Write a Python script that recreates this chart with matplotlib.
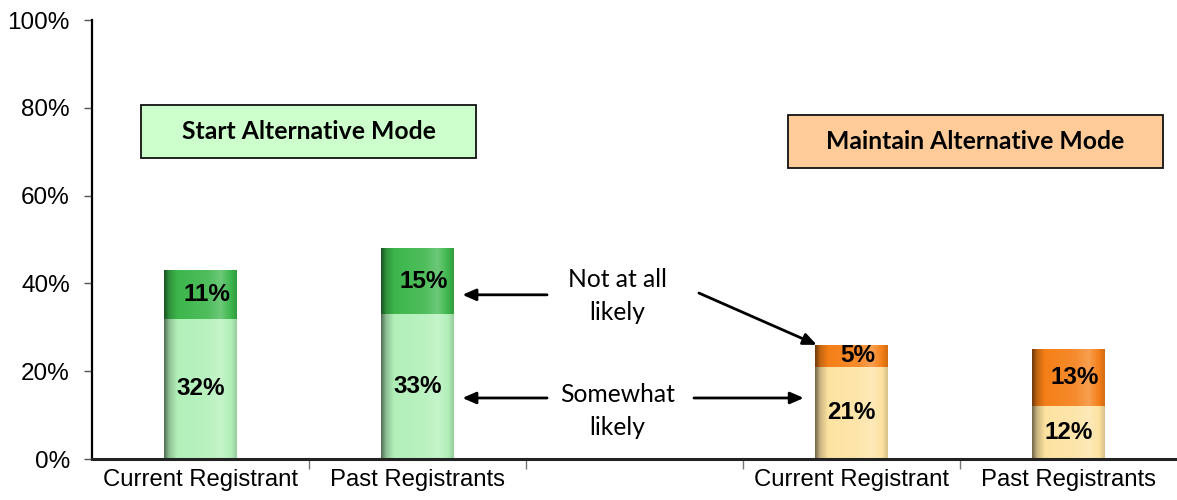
import numpy as np
import matplotlib
matplotlib.use("Agg")
import matplotlib.pyplot as plt
from matplotlib.patches import Rectangle
from matplotlib.ticker import FuncFormatter, FixedLocator
from matplotlib.colors import to_rgb

# ---- data ----
categories = ["Current Registrant", "Past Registrants", "", "Current Registrant", "Past Registrants"]
somewhat_likely = [32, 33, None, 21, 12]
not_at_all_likely = [11, 15, None, 5, 13]
yticks = [0, 20, 40, 60, 80, 100]

light_colors = ["#b2f0b9", "#b2f0b9", None, "#fde3a2", "#fde3a2"]
dark_colors = ["#3cb64b", "#3cb64b", None, "#f57f17", "#f57f17"]

plt.rcParams['font.family'] = ['Liberation Sans', 'DejaVu Sans']

fig = plt.figure(figsize=(11.77, 5.0), dpi=100)
ax = fig.add_axes([92/1177, 41/500, 1 - 92/1177, 439/500])

x = np.arange(len(categories))
width = 0.335


def shade(patch, color):
    base = np.array(to_rgb(color))
    white = np.ones(3)
    t = np.array([0.0, 0.07, 0.18, 0.6, 0.78, 0.92, 1.0])
    cols = [base * 0.45, base * 0.8, base, base * 0.9 + white * 0.1,
            base * 0.75 + white * 0.25, base, base * 0.85]
    n = 200
    tt = np.linspace(0, 1, n)
    img = np.zeros((1, n, 3))
    cols = np.array(cols)
    for c in range(3):
        img[0, :, c] = np.interp(tt, t, cols[:, c])
    img = np.clip(img, 0, 1)
    x0, y0 = patch.get_x(), patch.get_y()
    w, h = patch.get_width(), patch.get_height()
    im = ax.imshow(img, extent=[x0, x0 + w, y0, y0 + h], aspect='auto',
                   zorder=patch.get_zorder() + 0.1, interpolation='bilinear')
    im.set_clip_path(patch)


for i in range(len(categories)):
    if somewhat_likely[i] is None:
        continue
    b1 = ax.bar(x[i], somewhat_likely[i], width, color=light_colors[i], zorder=2)[0]
    b2 = ax.bar(x[i], not_at_all_likely[i], width, bottom=somewhat_likely[i],
                color=dark_colors[i], zorder=2)[0]
    shade(b1, light_colors[i])
    shade(b2, dark_colors[i])
    ax.text(x[i], somewhat_likely[i] / 2, f"{somewhat_likely[i]}%", ha='center', va='center',
            fontsize=17.5, fontweight='bold', zorder=5)
    ax.text(x[i] + 0.03, somewhat_likely[i] + not_at_all_likely[i] / 2, f"{not_at_all_likely[i]}%",
            ha='center', va='center', fontsize=17.5, fontweight='bold', zorder=5)

ax.set_xlim(-0.5, len(categories) - 0.5)
ax.set_ylim(0, 100)
ax.yaxis.set_major_locator(FixedLocator(yticks))
ax.yaxis.set_major_formatter(FuncFormatter(lambda v, p: f"{v:.0f}%"))
ax.set_xticks(x)
ax.set_xticklabels(categories)
ax.set_xticks(np.arange(len(categories) - 1) + 0.5, minor=True)
ax.tick_params(axis='x', which='major', length=0, labelsize=17.2, pad=7)
ax.tick_params(axis='x', which='minor', length=7, width=1, color='#777777', direction='out')
ax.tick_params(axis='y', length=6, width=1, color='#555555', labelsize=17.5, pad=10)

for s in ['top', 'right']:
    ax.spines[s].set_visible(False)
ax.spines['left'].set_linewidth(1.6)
ax.spines['bottom'].set_linewidth(2.2)
ax.spines['bottom'].set_color('#222222')

# ---- title boxes ----
ax.add_patch(Rectangle((-0.275, 68.6), 1.546, 12.0, facecolor='#ccffcc', edgecolor='#111111',
                       linewidth=1.3, zorder=3))
ax.text(0.498, 74.6, "Start Alternative Mode", ha='center', va='center', fontsize=17.8,
        fontweight='bold', family=['Lato', 'DejaVu Sans'], zorder=4)
ax.add_patch(Rectangle((2.706, 66.3), 1.73, 12.1, facecolor='#ffcc99', edgecolor='#111111',
                       linewidth=1.3, zorder=3, clip_on=False))
ax.text(3.571, 72.4, "Maintain Alternative Mode", ha='center', va='center', fontsize=17.8,
        fontweight='bold', family=['Lato', 'DejaVu Sans'], zorder=4)

# ---- annotations ----
ax.text(1.92, 37.1, "Not at all\nlikely", ha='center', va='center', fontsize=17.7,
        family=['Lato', 'DejaVu Sans'], linespacing=1.5)
ax.text(1.92, 10.9, "Somewhat\nlikely", ha='center', va='center', fontsize=17.7,
        family=['Lato', 'DejaVu Sans'], linespacing=1.5)

aprops = dict(arrowstyle='-|>,head_length=0.8,head_width=0.35', color='black', lw=2,
              shrinkA=0, shrinkB=0)
ax.annotate("", xy=(1.207, 37.4), xytext=(1.597, 37.4), arrowprops=aprops)
ax.annotate("", xy=(2.84, 26.0), xytext=(2.297, 37.8), arrowprops=aprops)
ax.annotate("", xy=(1.207, 13.9), xytext=(1.597, 13.9), arrowprops=aprops)
ax.annotate("", xy=(2.78, 13.9), xytext=(2.274, 13.9), arrowprops=aprops)

fig.savefig("out.png", dpi=100)
